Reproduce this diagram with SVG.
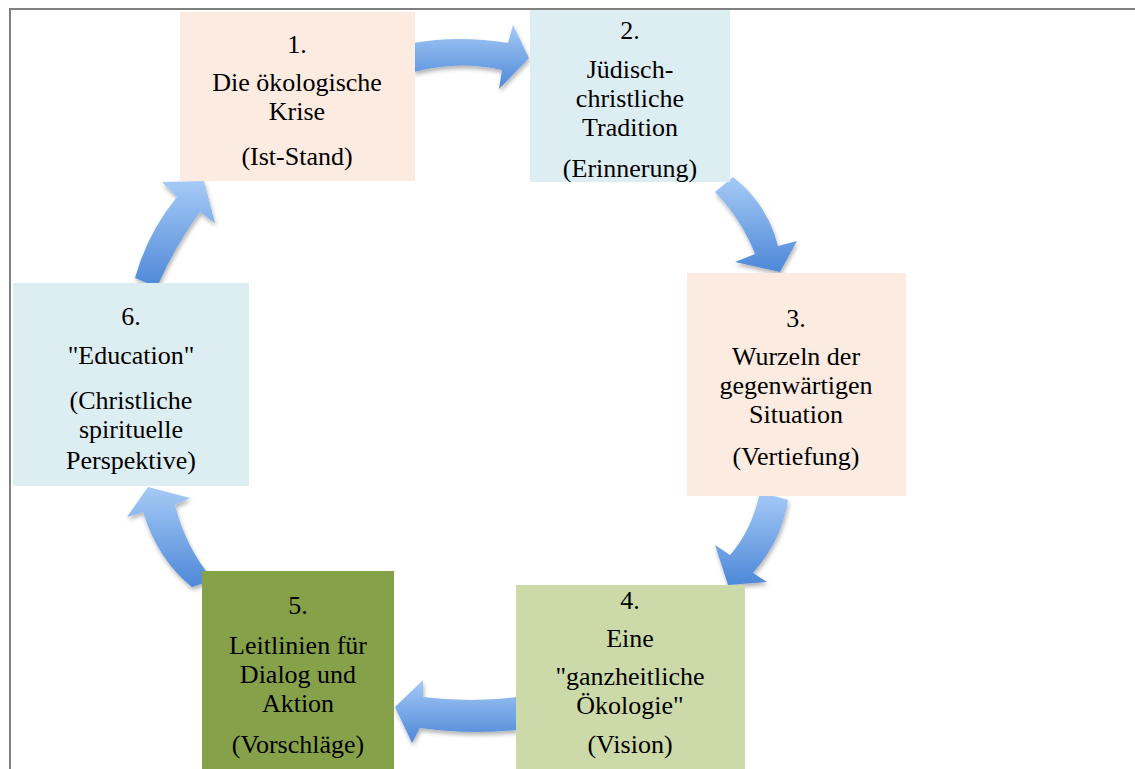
<svg xmlns="http://www.w3.org/2000/svg" width="1135" height="769" viewBox="0 0 1135 769">
<defs>
<linearGradient id="ag" x1="0" y1="0" x2="0" y2="1">
<stop offset="0" stop-color="#A6CAF6"/>
<stop offset="1" stop-color="#4E88D8"/>
</linearGradient>
<filter id="sh" x="-20%" y="-20%" width="140%" height="140%">
<feDropShadow dx="1" dy="3" stdDeviation="2" flood-color="#000" flood-opacity="0.3"/>
</filter>
</defs>
<style>
text{font-family:"Liberation Serif","Times New Roman",serif;font-size:26px;fill:#000;text-anchor:middle}
.arrow{fill:url(#ag);filter:url(#sh)}
.peach{fill:#FBEBE0}
.blue{fill:#DDEEF3}
.lgreen{fill:#CCDAA9}
.dgreen{fill:#85A24A}
</style>
<rect width="1135" height="769" fill="#fff"/>
<path d="M10,769 L10,9 L1135,9" fill="none" stroke="#808080" stroke-width="2"/>
<g id="connectors">
<path class="arrow" d="M414,72 Q458,60 502,70 L499,89 L529,58 L513,25 L508,43 Q458,35 414,43 Z"/>
<path class="arrow" d="M715,192 Q742,220 755,254 L735,262 L780,272 L797,241 L778,246 Q768,205 733,177 Z"/>
<path class="arrow" d="M760,492 Q752,530 730,555 L715,545 L728,585 L767,582 L753,573 Q782,540 788,500 Z"/>
<path class="arrow" d="M517,697 Q470,703 423,697 L423,680 L395,707 L412,743 L420,728 Q470,735 517,730 Z"/>
<path class="arrow" d="M213,580 Q186,548 175,505 L190,498 L148,487 L127,517 L143,512 Q158,560 192,587 Z"/>
<path class="arrow" d="M135,278 Q148,232 177,197 L162,182 L204,181 L215,223 L200,212 Q174,248 157,287 Z"/>
</g>
<g id="node1">
<rect class="peach" x="180" y="12" width="235" height="169"/>
<text x="297" y="53">1.</text>
<text x="297" y="91">Die ökologische</text>
<text x="297" y="120">Krise</text>
<text x="297" y="165">(Ist-Stand)</text>
</g>
<g id="node2">
<rect class="blue" x="530" y="10" width="200" height="172"/>
<text x="630" y="39">2.</text>
<text x="630" y="78">Jüdisch-</text>
<text x="630" y="107">christliche</text>
<text x="630" y="136">Tradition</text>
<text x="630" y="177">(Erinnerung)</text>
</g>
<g id="node3">
<rect class="peach" x="687" y="273" width="219" height="223"/>
<text x="796" y="327">3.</text>
<text x="796" y="365">Wurzeln der</text>
<text x="796" y="394">gegenwärtigen</text>
<text x="796" y="423">Situation</text>
<text x="796" y="465">(Vertiefung)</text>
</g>
<g id="node4">
<rect class="lgreen" x="516" y="585" width="229" height="190"/>
<text x="630" y="609">4.</text>
<text x="630" y="647">Eine</text>
<text x="630" y="685">"ganzheitliche</text>
<text x="630" y="714">Ökologie"</text>
<text x="630" y="753">(Vision)</text>
</g>
<g id="node5">
<rect class="dgreen" x="202" y="571" width="192" height="204"/>
<text x="298" y="614">5.</text>
<text x="298" y="654">Leitlinien für</text>
<text x="298" y="683">Dialog und</text>
<text x="298" y="712">Aktion</text>
<text x="298" y="753">(Vorschläge)</text>
</g>
<g id="node6">
<rect class="blue" x="13" y="283" width="236" height="203"/>
<text x="131" y="325">6.</text>
<text x="131" y="364">"Education"</text>
<text x="131" y="409">(Christliche</text>
<text x="131" y="438">spirituelle</text>
<text x="131" y="469">Perspektive)</text>
</g>
</svg>
